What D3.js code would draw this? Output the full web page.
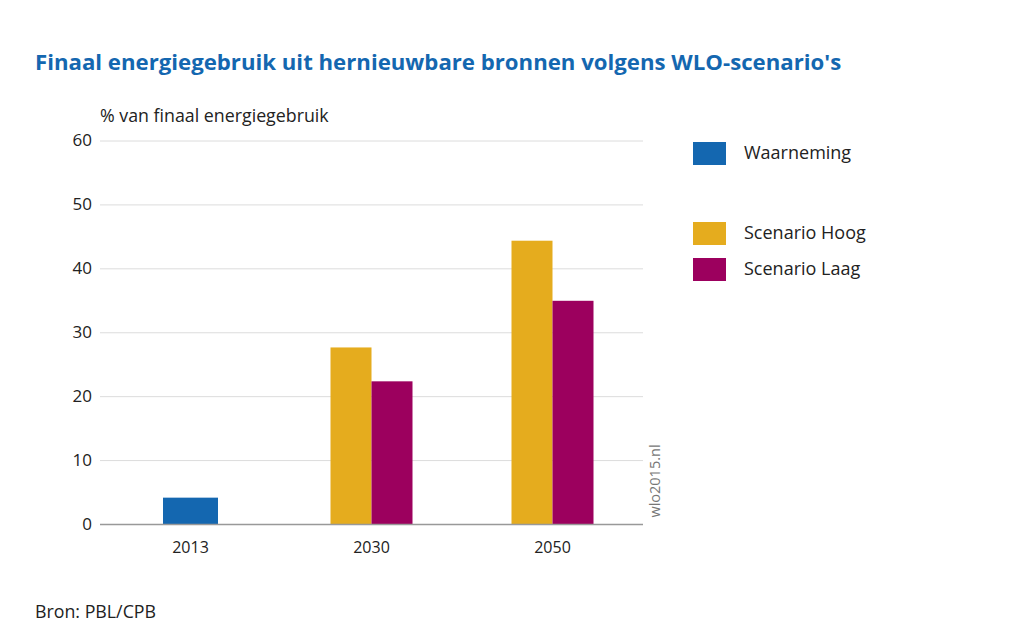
<!DOCTYPE html>
<html>
<head>
<meta charset="utf-8">
<script src="https://cdn.jsdelivr.net/npm/d3@7"></script>
<style>
  body { margin: 0; background: #fff; }
  text { font-family: "Open Sans", "Noto Sans", sans-serif; fill: #222; }
</style>
</head>
<body>
<script>
var years = ["2013", "2030", "2050"];
var waarneming = [4.2, null, null];
var scenarioHoog = [null, 27.7, 44.4];
var scenarioLaag = [null, 22.4, 35.0];
var yTicks = [0, 10, 20, 30, 40, 50, 60];
var legendLabels = ["Waarneming", "Scenario Hoog", "Scenario Laag"];
var colors = ["#1467b0", "#e5ac1e", "#9c005e"];

window.onload = drawChart();

function drawChart(){

    var width = 1024,
        height = 631;

    var svg = d3.select("body")
        .append("svg")
        .attr("width", width)
        .attr("height", height);

    var left = 100, right = 643, top = 141, bottom = 524.5;

    var x = d3.scaleBand()
        .domain(years)
        .range([left, right]);

    var y = d3.scaleLinear()
        .domain([0, 60])
        .range([bottom, top]);

    svg.append("text")
        .attr("x", 35)
        .attr("y", 70)
        .style("font-size", "22.2px")
        .style("font-weight", "700")
        .style("fill", "#1467b0")
        .text("Finaal energiegebruik uit hernieuwbare bronnen volgens WLO-scenario's");

    svg.append("text")
        .attr("x", 100)
        .attr("y", 122)
        .style("font-size", "17.8px")
        .text("% van finaal energiegebruik");

    // grid
    svg.selectAll(".grid")
        .data(yTicks.filter(function(d){ return d > 0; }))
        .enter()
        .append("line")
        .attr("x1", left)
        .attr("x2", right)
        .attr("y1", function(d){ return y(d); })
        .attr("y2", function(d){ return y(d); })
        .attr("stroke", "#dcdcdc")
        .attr("stroke-width", 1);

    svg.selectAll(".ytick")
        .data(yTicks)
        .enter()
        .append("text")
        .attr("x", 92)
        .attr("y", function(d){ return y(d) + 5; })
        .attr("text-anchor", "end")
        .style("font-size", "17px")
        .text(function(d){ return d; });

    // bars
    var series = [waarneming, scenarioHoog, scenarioLaag];
    var single = 55, pair = 41;
    series.forEach(function(vals, s){
        svg.selectAll(".bar" + s)
            .data(years.map(function(yr, i){ return {year: yr, v: vals[i]}; })
                .filter(function(d){ return d.v != null; }))
            .enter()
            .append("rect")
            .attr("x", function(d){
                var c = x(d.year) + x.bandwidth() / 2;
                if (s === 0) return c - single / 2;
                return s === 1 ? c - pair : c;
            })
            .attr("width", s === 0 ? single : pair)
            .attr("y", function(d){ return y(d.v); })
            .attr("height", function(d){ return bottom - y(d.v); })
            .attr("fill", colors[s]);
    });

    svg.append("line")
        .attr("x1", left)
        .attr("x2", right)
        .attr("y1", bottom)
        .attr("y2", bottom)
        .attr("stroke", "#999")
        .attr("stroke-width", 1.5);

    svg.selectAll(".xlab")
        .data(years)
        .enter()
        .append("text")
        .attr("x", function(d){ return x(d) + x.bandwidth() / 2; })
        .attr("y", 553)
        .attr("text-anchor", "middle")
        .style("font-size", "16px")
        .text(function(d){ return d; });

    svg.append("text")
        .attr("transform", "translate(660,481) rotate(-90)")
        .attr("text-anchor", "middle")
        .style("font-size", "14.5px")
        .style("fill", "#777")
        .text("wlo2015.nl");

    // legend
    var legendY = [142, 222, 258];
    legendLabels.forEach(function(l, i){
        svg.append("rect")
            .attr("x", 693)
            .attr("y", legendY[i])
            .attr("width", 33)
            .attr("height", 23)
            .attr("fill", colors[i]);
        svg.append("text")
            .attr("x", 744)
            .attr("y", legendY[i] + 17)
            .style("font-size", "18px")
            .text(l);
    });

    svg.append("text")
        .attr("x", 35)
        .attr("y", 618)
        .style("font-size", "17.8px")
        .text("Bron: PBL/CPB");
};
</script>
</body>
</html>
